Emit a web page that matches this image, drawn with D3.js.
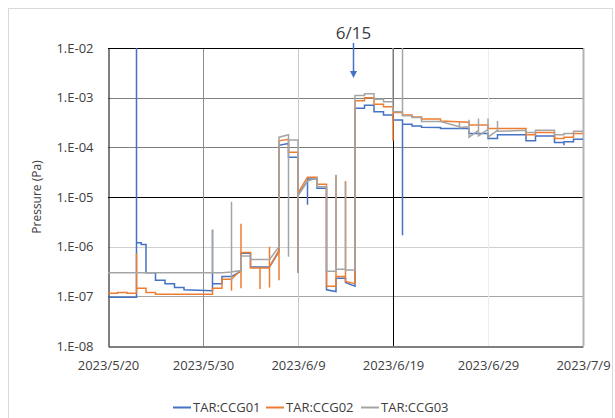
<!DOCTYPE html>
<html><head><meta charset="utf-8">
<script src="https://cdn.jsdelivr.net/npm/d3@7"></script>
<style>
html,body{margin:0;padding:0;background:#fff;}
svg text{font-family:"Open Sans",sans-serif;fill:#404040;}
</style></head>
<body><svg id="chart" width="615" height="418"></svg>
<script>
// ---- data (day offset from 2023/5/20, pressure in Pa) ----
const startDate = "2023-05-20";
const xTickDays = [0, 10, 20, 30, 40, 50];
const yTickExps = [-8, -7, -6, -5, -4, -3, -2];
const seriesNames = ["TAR:CCG01", "TAR:CCG02", "TAR:CCG03"];
const seriesColors = ["#4472C4", "#ED7D31", "#A5A5A5"];
const annotationLabel = "6/15";
const annotationDay = 26;

const ccg01 = [[0,9.6e-8],[3,9.6e-8],[3,1e-2],[3,1.2e-6],[3.5,1.2e-6],[3.5,1.1e-6],[4,1.1e-6],[4,3.0e-7],[5,3.0e-7],[5,2.1e-7],[6,2.1e-7],[6,1.8e-7],[7,1.8e-7],[7,1.5e-7],[8,1.5e-7],[8,1.35e-7],[11,1.3e-7],[11,2.2e-6],[11,1.8e-7],[12,1.8e-7],[12,2.5e-7],[13,2.5e-7],[14,3.2e-7],[14,7.4e-7],[15,7.4e-7],[15,3.9e-7],[17,3.9e-7],[18,8e-7],[18,1.1e-4],[19,1.2e-4],[19,6.3e-5],[20,6.3e-5],[20,3e-7],[20,1.1e-5],[21,2.1e-5],[21,7e-6],[21,2.3e-5],[22,2.3e-5],[22,1.5e-5],[23,1.5e-5],[23,1.35e-7],[24,1.25e-7],[24,2.3e-7],[25,2.3e-7],[25,1.9e-7],[26,1.6e-7],[26,6.1e-4],[27,6.1e-4],[27,7e-4],[28,7e-4],[28,5.2e-4],[29,5.2e-4],[29,4.5e-4],[30,4.5e-4],[30,3.55e-4],[31,3.55e-4],[31,1.7e-6],[31,2.9e-4],[32,2.9e-4],[32,2.7e-4],[33,2.7e-4],[33,2.55e-4],[35,2.5e-4],[35,2.4e-4],[38,2.4e-4],[38,1.9e-4],[40,1.9e-4],[40,1.5e-4],[41,1.5e-4],[41,1.8e-4],[44,1.8e-4],[44,1.35e-4],[45,1.35e-4],[45,1.7e-4],[47,1.7e-4],[47,1.25e-4],[48,1.25e-4],[48,1.1e-4],[48,1.3e-4],[49,1.3e-4],[49,1.45e-4],[50,1.45e-4]];

const ccg02 = [[0,1.15e-7],[1,1.15e-7],[1,1.2e-7],[2,1.2e-7],[2,1.15e-7],[3,1.15e-7],[3,7.4e-7],[3,1.45e-7],[4,1.45e-7],[4,1.2e-7],[5,1.2e-7],[5,1.1e-7],[11,1.1e-7],[11,1.45e-7],[12,1.45e-7],[12,2.2e-7],[13,2.2e-7],[13,1.3e-7],[13,2.2e-7],[14,3.4e-7],[14,2.9e-6],[14,1.45e-7],[14,7.6e-7],[15,7.6e-7],[15,3.7e-7],[16,3.7e-7],[16,1.4e-7],[16,3.7e-7],[17,3.7e-7],[17,1.5e-7],[17,1.0e-6],[17,3.9e-7],[18,8.5e-7],[18,2.1e-7],[18,1.35e-4],[19,1.45e-4],[19,8e-5],[20,8e-5],[20,3.3e-7],[20,1.2e-5],[21,2.5e-5],[22,2.5e-5],[22,1.8e-5],[23,1.8e-5],[23,1.6e-7],[24,1.6e-7],[24,2.8e-5],[24,2.5e-7],[25,2.5e-7],[25,2.1e-5],[25,2e-7],[26,1.8e-7],[26,8.7e-4],[27,8.7e-4],[27,1e-3],[28,1e-3],[28,7.4e-4],[29,7.4e-4],[29,6.6e-4],[30,6.6e-4],[30,1.35e-4],[30,5e-4],[31,5e-4],[31,4.5e-4],[32,4.5e-4],[32,4.1e-4],[33,4.1e-4],[33,3.7e-4],[35,3.7e-4],[35,3.4e-4],[38,3.2e-4],[38,2.8e-4],[40,2.8e-4],[40,2.4e-4],[44,2.4e-4],[44,1.8e-4],[45,1.8e-4],[45,2.0e-4],[47,2.0e-4],[47,1.5e-4],[48,1.5e-4],[48,1.6e-4],[49,1.6e-4],[49,1.9e-4],[50,1.9e-4]];

const ccg03 = [[0,3.0e-7],[11,3.0e-7],[11,2.2e-6],[11,3.0e-7],[12,3.0e-7],[13,3.1e-7],[13,8e-6],[13,2e-7],[13,3.1e-7],[14,3.3e-7],[14,6.5e-7],[15,6.5e-7],[15,5.5e-7],[17,5.5e-7],[18,1.0e-6],[18,1.6e-4],[19,1.8e-4],[19,6.3e-7],[19,1.4e-4],[20,1.4e-4],[20,3e-7],[20,1.05e-5],[21,2.1e-5],[22,2.4e-5],[22,1.6e-5],[23,1.6e-5],[23,3.2e-7],[24,3.2e-7],[24,2.7e-5],[24,3.5e-7],[25,3.5e-7],[25,2.0e-5],[25,3.4e-7],[26,3.4e-7],[26,1.1e-3],[27,1.1e-3],[27,1.2e-3],[28,1.2e-3],[28,9.3e-4],[29,9.3e-4],[29,8.3e-4],[30,8.3e-4],[30,1e-2],[30,5.2e-4],[31,5.2e-4],[31,1e-2],[31,4.3e-4],[32,4.3e-4],[32,4e-4],[33,4e-4],[33,3.3e-4],[35,3.3e-4],[37,2.6e-4],[37,3.2e-4],[37,2.5e-4],[38,2.6e-4],[38,3.6e-4],[38,1.6e-4],[39,2.2e-4],[39,3.8e-4],[39,1.7e-4],[40,2.3e-4],[40,3.8e-4],[40,1.6e-4],[41,2.2e-4],[41,3.4e-4],[41,2.1e-4],[44,2.2e-4],[44,2.0e-4],[45,2.0e-4],[45,2.2e-4],[47,2.2e-4],[47,1.8e-4],[48,1.8e-4],[48,1.9e-4],[49,1.9e-4],[49,2.1e-4],[50,2.1e-4]];

const seriesData = [ccg01, ccg02, ccg03];

// ---- layout ----
const svg = d3.select("#chart");
const m = {left:108, right:583, top:48, bottom:346};
const t0 = new Date(startDate + "T00:00:00Z");
const toDate = d => new Date(t0.getTime() + d * 864e5);

const x = d3.scaleUtc().domain([toDate(0), toDate(50)]).range([m.left, m.right]);
const y = d3.scaleLog().domain([1e-8, 1e-2]).range([m.bottom, m.top]);

// outer chart border
svg.append("rect").attr("x", 8.5).attr("y", 8.5).attr("width", 604).attr("height", 420)
  .attr("fill", "none").attr("stroke", "#d9d9d9");

// gridlines (colours as in reference)
const hGridColors = {"-7":"#a6a6a6","-6":"#d0d0d0","-5":"#000","-4":"#7f7f7f","-3":"#7f7f7f"};
yTickExps.filter(e => e > -8 && e < -2).forEach(e => {
  svg.append("line").attr("x1", m.left).attr("x2", m.right)
    .attr("y1", Math.round(y(Math.pow(10, e))) + 0.5).attr("y2", Math.round(y(Math.pow(10, e))) + 0.5)
    .attr("stroke", hGridColors[e]).attr("stroke-width", 1);
});
const vGridColors = {10:"#8c8c8c", 20:"#c8c8c8", 30:"#000", 40:"#ececec"};
xTickDays.filter(d => d > 0 && d < 50).forEach(d => {
  svg.append("line").attr("y1", m.top).attr("y2", m.bottom)
    .attr("x1", Math.round(x(toDate(d))) + 0.5).attr("x2", Math.round(x(toDate(d))) + 0.5)
    .attr("stroke", vGridColors[d]).attr("stroke-width", 1);
});
// right edge
svg.append("line").attr("x1", m.right + 0.5).attr("x2", m.right + 0.5).attr("y1", m.top).attr("y2", m.bottom)
  .attr("stroke", "#b4b4b4").attr("stroke-width", 2);
// top edge
svg.append("line").attr("x1", m.left).attr("x2", m.right).attr("y1", m.top + 0.5).attr("y2", m.top + 0.5)
  .attr("stroke", "#000");

// axes
const xAxis = d3.axisBottom(x).tickValues(xTickDays.map(toDate))
  .tickFormat(d3.utcFormat("%Y/%-m/%-d")).tickSize(0).tickPadding(14);
const gx = svg.append("g").attr("transform", `translate(0,${m.bottom + 0.5})`).call(xAxis);
gx.select(".domain").attr("stroke", "#000");
gx.selectAll("text").attr("font-size", 13).attr("fill", "#404040").attr("font-family", "Open Sans");

const fmtY = v => { const e = Math.round(Math.log10(v)); return "1.E" + (e < 0 ? "-" : "+") + String(Math.abs(e)).padStart(2, "0"); };
const yAxis = d3.axisLeft(y).tickValues(yTickExps.map(e => Math.pow(10, e))).tickFormat(fmtY).tickSize(0).tickPadding(15);
const gy = svg.append("g").attr("transform", `translate(${m.left + 0.5},0)`).call(yAxis);
gy.select(".domain").attr("stroke", "#000");
gy.selectAll("text").attr("font-size", 13).attr("fill", "#404040").attr("font-family", "Open Sans");

// y axis title
svg.append("text").attr("transform", "translate(41,197) rotate(-90)")
  .attr("text-anchor", "middle").attr("font-size", 12).text("Pressure (Pa)");

// clip
svg.append("clipPath").attr("id", "plotclip").append("rect")
  .attr("x", m.left).attr("y", m.top).attr("width", m.right - m.left).attr("height", m.bottom - m.top);

const line = d3.line().x(d => x(toDate(d[0]))).y(d => y(d[1]));
const gLines = svg.append("g").attr("clip-path", "url(#plotclip)");
seriesData.forEach((s, i) => {
  gLines.append("path").datum(s).attr("d", line)
    .attr("fill", "none").attr("stroke", seriesColors[i]).attr("stroke-width", 1.5)
    .attr("stroke-linejoin", "miter");
});

// annotation
const ax = x(toDate(annotationDay)) - 1.5;
svg.append("text").attr("x", ax).attr("y", 39).attr("text-anchor", "middle")
  .attr("font-size", 17).attr("fill", "#262626").text(annotationLabel);
svg.append("line").attr("x1", ax).attr("x2", ax).attr("y1", 43).attr("y2", 72)
  .attr("stroke", "#4472C4").attr("stroke-width", 1.5);
svg.append("path").attr("d", `M${ax-3.5},71 L${ax+3.5},71 L${ax},78 Z`).attr("fill", "#4472C4");

// legend
const legX = [173, 266, 361];
seriesNames.forEach((n, i) => {
  svg.append("line").attr("x1", legX[i]).attr("x2", legX[i] + 18).attr("y1", 407.5).attr("y2", 407.5)
    .attr("stroke", seriesColors[i]).attr("stroke-width", 2);
  svg.append("text").attr("x", legX[i] + 20).attr("y", 412).attr("font-size", 13).text(n);
});
</script></body></html>
